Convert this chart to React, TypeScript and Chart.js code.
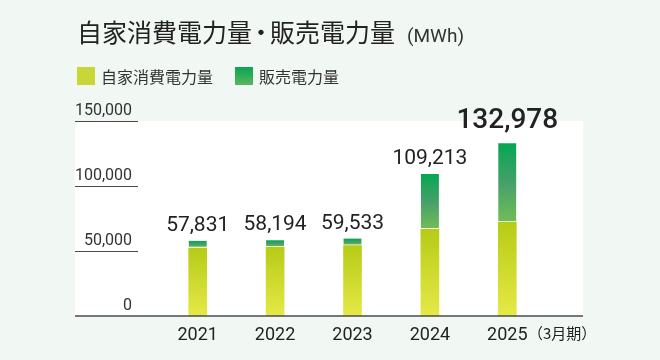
import React, { useEffect, useRef } from "react";
import { Chart, registerables } from "chart.js";

Chart.register(...registerables);

const categories = ["2021", "2022", "2023", "2024", "2025"];
const selfUse = [52331, 52994, 54133, 66700, 72077];
const sold = [5500, 5200, 5400, 42513, 60901];
const totals = [57831, 58194, 59533, 109213, 132978];
const yTicks = [0, 50000, 100000, 150000];
const titleA = "自家消費電力量";
const titleDot = "・";
const titleB = "販売電力量";
const unitText = "(MWh)";
const legendSelf = "自家消費電力量";
const legendSold = "販売電力量";
const periodText = "（3月期）";

const fmt = (v: number) => v.toLocaleString("en-US");

function segGradient(ctx: any, which: number) {
  const chart = ctx.chart;
  const y = chart.scales && chart.scales.y;
  const fallback = which === 0 ? "#cdd92e" : "#3fa35f";
  if (!chart.chartArea || !y || ctx.dataIndex === undefined) return fallback;
  const i = ctx.dataIndex;
  const lo = which === 0 ? 0 : selfUse[i];
  const hi = which === 0 ? selfUse[i] : selfUse[i] + sold[i];
  const top = y.getPixelForValue(hi);
  const bottom = y.getPixelForValue(lo);
  if (!isFinite(top) || !isFinite(bottom) || top === bottom) return fallback;
  const g = chart.ctx.createLinearGradient(0, top, 0, bottom);
  if (which === 0) {
    g.addColorStop(0, "#b6cb16");
    g.addColorStop(1, "#e6e947");
  } else {
    g.addColorStop(0, "#05a752");
    g.addColorStop(0.5, "#45a06a");
    g.addColorStop(1, "#73bd57");
  }
  return g;
}

const decorPlugin = {
  id: "decor",
  beforeDraw(chart: any) {
    const ctx = chart.ctx;
    const y = chart.scales.y;
    ctx.save();
    ctx.fillStyle = "#ffffff";
    const top = y.getPixelForValue(150000);
    const bottom = y.getPixelForValue(0);
    ctx.fillRect(75, top, 508, bottom - top);
    ctx.strokeStyle = "#4a4a4a";
    ctx.lineWidth = 1;
    ctx.fillStyle = "#333333";
    ctx.font = "400 16px Roboto";
    ctx.textAlign = "right";
    ctx.textBaseline = "alphabetic";
    yTicks.forEach((v) => {
      const py = Math.round(y.getPixelForValue(v));
      if (v !== 0) {
        ctx.beginPath();
        ctx.moveTo(75, py + 0.5);
        ctx.lineTo(138, py + 0.5);
        ctx.stroke();
      }
      ctx.fillText(fmt(v), 132, py - 6);
    });
    ctx.restore();
  },
  afterDatasetsDraw(chart: any) {
    const ctx = chart.ctx;
    const x = chart.scales.x;
    const y = chart.scales.y;
    ctx.save();
    const by = y.getPixelForValue(0);
    ctx.strokeStyle = "#4a4a4a";
    ctx.lineWidth = 1.5;
    ctx.beginPath();
    ctx.moveTo(75, by);
    ctx.lineTo(583, by);
    ctx.stroke();
    ctx.fillStyle = "#222222";
    ctx.textAlign = "center";
    ctx.textBaseline = "alphabetic";
    ctx.font = "400 18px Roboto";
    categories.forEach((c, i) => {
      ctx.fillText(c, x.getPixelForValue(i), by + 24);
    });
    ctx.textAlign = "left";
    ctx.font = "400 15px 'Noto Sans CJK JP'";
    ctx.fillText(periodText, 528, by + 23);
    totals.forEach((t, i) => {
      const px = x.getPixelForValue(i);
      const py = y.getPixelForValue(t);
      const last = i === totals.length - 1;
      ctx.textAlign = "center";
      ctx.font = last ? "500 28px Roboto" : "400 21px Roboto";
      ctx.fillText(fmt(t), px, py - (last ? 15 : 10));
    });
    ctx.restore();
  },
};

export default function App() {
  const ref = useRef<HTMLCanvasElement>(null);
  useEffect(() => {
    if (!ref.current) return;
    const chart = new Chart(ref.current, {
      type: "bar",
      data: {
        labels: categories,
        datasets: [
          {
            label: legendSelf,
            data: selfUse,
            backgroundColor: (c: any) => segGradient(c, 0),
            borderWidth: 0,
            barThickness: 18,
          },
          {
            label: legendSold,
            data: sold,
            backgroundColor: (c: any) => segGradient(c, 1),
            borderColor: "rgba(255,255,255,0.9)",
            borderWidth: { top: 0, left: 0, right: 0, bottom: 1.5 },
            borderSkipped: false,
            barThickness: 18,
          },
        ],
      },
      options: {
        responsive: false,
        animation: false,
        layout: { padding: { left: 159, right: 114, top: 121, bottom: 44 } },
        scales: {
          x: { stacked: true, display: false },
          y: { stacked: true, display: false, min: 0, max: 150000 },
        },
        plugins: {
          legend: { display: false },
          tooltip: { enabled: false },
          title: { display: false },
        },
      },
      plugins: [decorPlugin],
    } as any);
    return () => chart.destroy();
  }, []);

  const cjk = "'Noto Sans CJK JP', 'Noto Sans', sans-serif";
  return (
    <div
      style={{
        position: "absolute",
        left: 0,
        top: 0,
        width: 660,
        height: 360,
        background: "#f1f8f3",
        overflow: "hidden",
        fontFamily: cjk,
      }}
    >
      <canvas ref={ref} width={660} height={360} style={{ position: "absolute", left: 0, top: 0 }} />
      <div
        style={{
          position: "absolute",
          left: 77,
          top: 19,
          fontSize: 25,
          lineHeight: "25px",
          color: "#222",
          whiteSpace: "nowrap",
        }}
      >
        {titleA}
        <span style={{ display: "inline-block", width: 18, textAlign: "center", overflow: "visible" }}>
          <span style={{ marginLeft: -4, marginRight: -4 }}>{titleDot}</span>
        </span>
        {titleB}
        <span style={{ fontSize: 19, marginLeft: 12, fontFamily: "Roboto, sans-serif", color: "#333" }}>{unitText}</span>
      </div>
      <div style={{ position: "absolute", left: 77, top: 67, width: 18, height: 18, background: "#c9d637" }} />
      <div
        style={{ position: "absolute", left: 101, top: 66, fontSize: 16, lineHeight: "20px", color: "#333", whiteSpace: "nowrap" }}
      >
        {legendSelf}
      </div>
      <div
        style={{
          position: "absolute",
          left: 235,
          top: 67,
          width: 18,
          height: 18,
          background: "linear-gradient(#08a552, #5cb45e)",
        }}
      />
      <div
        style={{ position: "absolute", left: 259, top: 66, fontSize: 16, lineHeight: "20px", color: "#333", whiteSpace: "nowrap" }}
      >
        {legendSold}
      </div>
    </div>
  );
}
